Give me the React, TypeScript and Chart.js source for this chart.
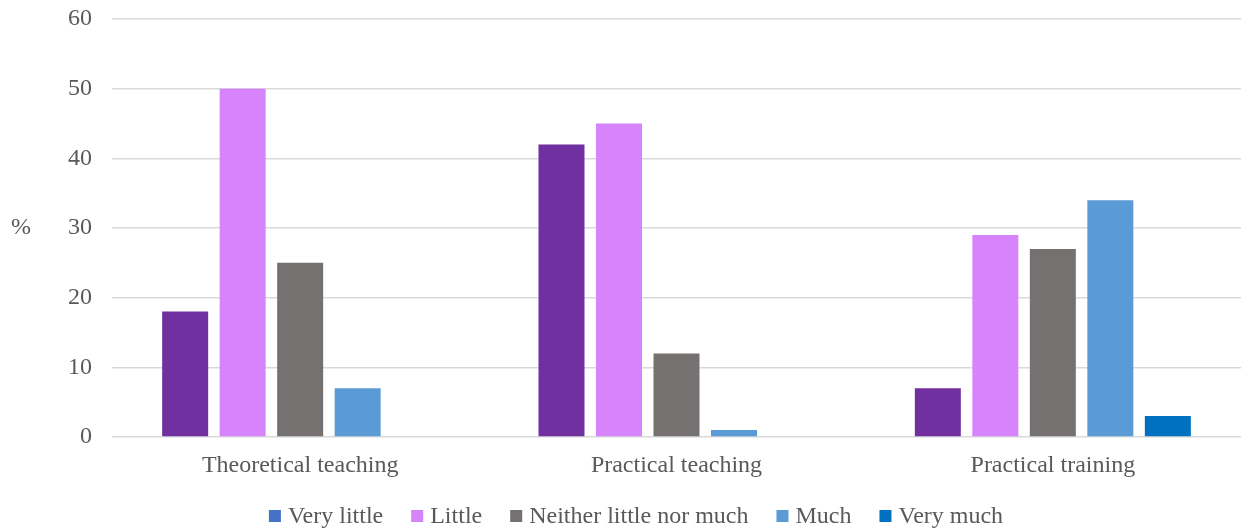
import React, { useEffect, useRef } from "react";
import { Chart, registerables } from "chart.js";

Chart.register(...registerables);

const categories = ["Theoretical teaching", "Practical teaching", "Practical training"];
const seriesNames = ["Very little", "Little", "Neither little nor much", "Much", "Very much"];
const veryLittle = [18, 42, 7];
const little = [50, 45, 29];
const neither = [25, 12, 27];
const much = [7, 1, 34];
const veryMuch = [0, 0, 3];
const barColors = ["#7030A0", "#D683FC", "#767171", "#5B9BD5", "#0070C0"];
const legendColors = ["#4472C4", "#D683FC", "#767171", "#5B9BD5", "#0070C0"];
const yTicks = [0, 10, 20, 30, 40, 50, 60];
const yTitle = "%";

const FONT = "'Liberation Serif', 'Times New Roman', serif";

export default function App() {
  const ref = useRef<HTMLCanvasElement | null>(null);
  useEffect(() => {
    document.body.style.margin = "0";
    const values = [veryLittle, little, neither, much, veryMuch];
    const titlePlugin = {
      id: "yTitleLegend",
      afterDraw(chart: any) {
        const ctx = chart.ctx;
        const area = chart.chartArea;
        ctx.save();
        ctx.font = `24px ${FONT}`;
        ctx.fillStyle = "#595959";
        ctx.textAlign = "center";
        ctx.textBaseline = "middle";
        ctx.fillText(yTitle, 21, (area.top + area.bottom) / 2);
        // legend
        const box = 12;
        const gap = 7;
        const spacing = 28;
        const widths = seriesNames.map((n) => ctx.measureText(n).width);
        const total =
          widths.reduce((a, w) => a + box + gap + w, 0) + spacing * (seriesNames.length - 1);
        let x = 636 - total / 2;
        const y = 516;
        ctx.textAlign = "left";
        seriesNames.forEach((n, i) => {
          ctx.fillStyle = legendColors[i];
          ctx.fillRect(x, y - box / 2, box, box);
          ctx.fillStyle = "#595959";
          ctx.fillText(n, x + box + gap, y + 1);
          x += box + gap + widths[i] + spacing;
        });
        ctx.restore();
      },
    };
    const chart = new Chart(ref.current!, {
      type: "bar",
      data: {
        labels: categories,
        datasets: seriesNames.map((name, i) => ({
          label: name,
          data: values[i],
          backgroundColor: barColors[i],
          barPercentage: 0.8,
          categoryPercentage: 0.764,
        })),
      },
      options: {
        responsive: false,
        animation: false,
        layout: { padding: { top: 19, right: 0, left: 0, bottom: 52 } },
        plugins: {
          tooltip: { enabled: false },
          legend: { display: false },
        },
        scales: {
          x: {
            afterFit: (scale: any) => {
              scale.height = 42;
              scale.paddingLeft = 0;
              scale.paddingRight = 0;
            },
            grid: { display: false, drawTicks: false },
            border: { display: false },
            ticks: { font: { family: FONT, size: 24 }, color: "#595959", padding: 14 },
          },
          y: {
            min: 0,
            max: 60,
            afterFit: (scale: any) => {
              scale.width = 112;
              scale.paddingTop = 0;
              scale.paddingBottom = 0;
            },
            afterBuildTicks: (scale: any) => {
              scale.ticks = yTicks.map((v) => ({ value: v }));
            },
            grid: { color: "#D9D9D9", lineWidth: 1.5, drawTicks: false },
            border: { display: false },
            ticks: { font: { family: FONT, size: 24 }, color: "#595959", padding: 20 },
          },
        },
      },
      plugins: [titlePlugin],
    });
    return () => chart.destroy();
  }, []);
  return <canvas ref={ref} width={1241} height={531} style={{ display: "block" }} />;
}
